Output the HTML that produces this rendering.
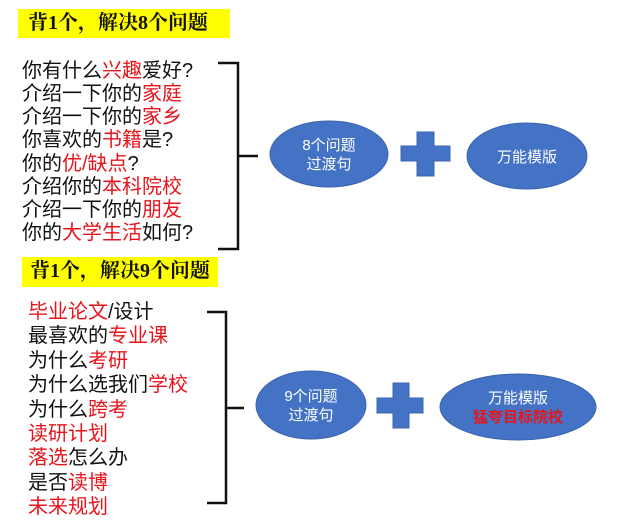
<!DOCTYPE html>
<html><head><meta charset="utf-8"><style>
body{margin:0;width:625px;height:532px;background:#fff;position:relative;overflow:hidden;font-family:"Liberation Sans","Noto Sans CJK SC",sans-serif}
.t{position:absolute;background:#ffff00;font-family:"Liberation Serif","Noto Serif CJK SC",serif;font-weight:bold;font-size:20px;line-height:29px;color:#111;padding-left:10px;box-sizing:border-box}
.l{position:absolute;font-size:20px;color:#111;white-space:nowrap}
.l div{height:23.15px;line-height:23.15px}
.l2 div{height:24.4px;line-height:24.4px}
r{color:#e8141b}
</style></head><body>
<div class="t" style="left:18px;top:9px;width:212px;height:29px">背1个，解决8个问题</div>
<div class="l" style="left:22px;top:60px">
<div>你有什么<r>兴趣</r>爱好?</div>
<div>介绍一下你的<r>家庭</r></div>
<div>介绍一下你的<r>家乡</r></div>
<div>你喜欢的<r>书籍</r>是?</div>
<div>你的<r>优/缺点</r>?</div>
<div>介绍你的<r>本科院校</r></div>
<div>介绍一下你的<r>朋友</r></div>
<div>你的<r>大学生活</r>如何?</div>
</div>
<div class="t" style="left:22px;top:257px;width:196px;height:30px;padding-left:8px">背1个，解决9个问题</div>
<div class="l l2" style="left:28px;top:300px">
<div><r>毕业论文</r>/设计</div>
<div>最喜欢的<r>专业课</r></div>
<div>为什么<r>考研</r></div>
<div>为什么选我们<r>学校</r></div>
<div>为什么<r>跨考</r></div>
<div><r>读研计划</r></div>
<div><r>落选</r>怎么办</div>
<div>是否<r>读博</r></div>
<div><r>未来规划</r></div>
</div>
<svg width="625" height="532" style="position:absolute;left:0;top:0">
<g stroke="#111" stroke-width="2.5" fill="none">
<path d="M218 63H238V249H218M238 156H258"/>
<path d="M207 312H226V503H207M226 408H244"/>
</g>
<g fill="#4472c4" stroke="#3a64ad" stroke-width="1">
<ellipse cx="329" cy="154" rx="59" ry="33"/>
<ellipse cx="527" cy="156" rx="60" ry="33"/>
<ellipse cx="311" cy="405" rx="55" ry="34"/>
<ellipse cx="518" cy="407" rx="78" ry="33"/>
<path d="M417 132H434V146H450V161H434V176H417V161H401V146H417Z"/>
<path d="M393 383H409V398H423V413H409V428H393V413H377V398H393Z"/>
</g>
<g fill="#fff" font-size="15" text-anchor="middle" font-family="Liberation Sans,Noto Sans CJK SC,sans-serif">
<text x="329" y="150">8个问题</text><text x="329" y="169">过渡句</text>
<text x="527" y="162">万能模版</text>
<text x="311" y="401">9个问题</text><text x="311" y="420">过渡句</text>
<text x="518" y="403">万能模版</text>
<text x="518" y="422" fill="#e8141b" font-weight="bold">猛夸目标院校</text>
</g>
</svg>
</body></html>
